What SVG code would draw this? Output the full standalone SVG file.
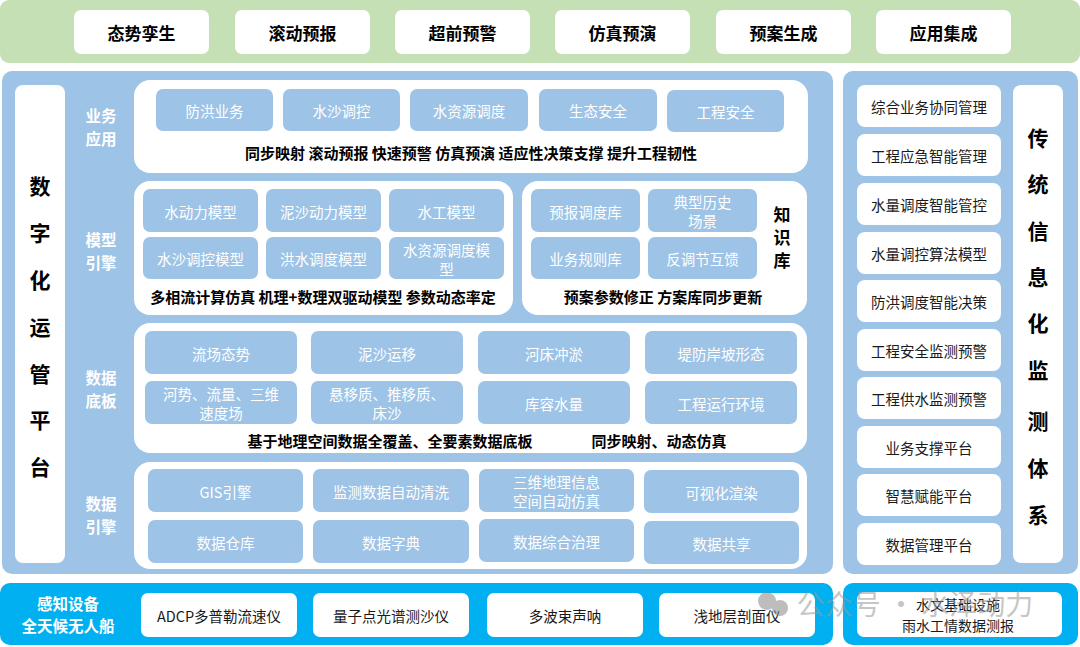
<svg xmlns="http://www.w3.org/2000/svg" width="1080" height="647" viewBox="0 0 1080 647">
<style>
text{font-family:"Noto Sans CJK SC","Microsoft YaHei","Noto Sans",sans-serif;text-anchor:middle;dominant-baseline:central}
.wb{fill:#fff}
.bb{fill:#9DC3E6}
.lbl{fill:#fff;font-size:14.5px}
.dk{fill:#1a1a1a;font-size:14.5px}
.bold{fill:#000;font-weight:bold;font-size:15px}
.top{fill:#000;font-weight:bold;font-size:17px}
.layer{fill:#fff;font-weight:bold;font-size:15.5px}
.vert{fill:#000;font-weight:bold;font-size:21px}
</style>
<rect width="1080" height="647" fill="#fff"/>
<g id="top-bar">
<rect x="0" y="0" width="1080" height="63" rx="9" fill="#C5E0B4"/>
<rect class="wb" x="74" y="10" width="135" height="44" rx="7"/><text class="top" x="141.5" y="32">态势孪生</text>
<rect class="wb" x="235" y="10" width="135" height="44" rx="7"/><text class="top" x="302.5" y="32">滚动预报</text>
<rect class="wb" x="395" y="10" width="135" height="44" rx="7"/><text class="top" x="462.5" y="32">超前预警</text>
<rect class="wb" x="555" y="10" width="135" height="44" rx="7"/><text class="top" x="622.5" y="32">仿真预演</text>
<rect class="wb" x="716" y="10" width="135" height="44" rx="7"/><text class="top" x="783.5" y="32">预案生成</text>
<rect class="wb" x="876" y="10" width="135" height="44" rx="7"/><text class="top" x="943.5" y="32">应用集成</text>
</g>
<g id="main-panel">
<rect x="2" y="71" width="831" height="503" rx="10" fill="#9DC3E6"/>
<rect class="wb" x="15" y="85" width="50" height="478" rx="8"/>
<text class="vert" x="40" y="185">数</text>
<text class="vert" x="40" y="232">字</text>
<text class="vert" x="40" y="279">化</text>
<text class="vert" x="40" y="326">运</text>
<text class="vert" x="40" y="373">管</text>
<text class="vert" x="40" y="419">平</text>
<text class="vert" x="40" y="466">台</text>
<text class="layer" x="101" y="115">业务<tspan x="101" dy="23">应用</tspan></text>
<text class="layer" x="101" y="239">模型<tspan x="101" dy="23">引擎</tspan></text>
<text class="layer" x="101" y="377">数据<tspan x="101" dy="23">底板</tspan></text>
<text class="layer" x="101" y="503">数据<tspan x="101" dy="23">引擎</tspan></text>
</g>
<g id="business-app">
<rect class="wb" x="134" y="80" width="674" height="93" rx="16"/>
<rect class="bb" x="156" y="89" width="117" height="42" rx="7"/><text class="lbl" x="214.5" y="110">防洪业务</text>
<rect class="bb" x="283" y="89" width="117" height="42" rx="7"/><text class="lbl" x="341.5" y="110">水沙调控</text>
<rect class="bb" x="410" y="89" width="118" height="42" rx="7"/><text class="lbl" x="469" y="110">水资源调度</text>
<rect class="bb" x="539" y="89" width="118" height="42" rx="7"/><text class="lbl" x="598" y="110">生态安全</text>
<rect class="bb" x="667" y="90" width="117" height="42" rx="7"/><text class="lbl" x="725.5" y="111">工程安全</text>
<text class="bold" x="471" y="152">同步映射 滚动预报 快速预警 仿真预演 适应性决策支撑 提升工程韧性</text>
</g>
<g id="model-engine">
<rect class="wb" x="134" y="181" width="379" height="134" rx="16"/>
<rect class="bb" x="143" y="189" width="115" height="43" rx="7"/><text class="lbl" x="200.5" y="211">水动力模型</text>
<rect class="bb" x="266" y="189" width="115" height="43" rx="7"/><text class="lbl" x="323.5" y="211">泥沙动力模型</text>
<rect class="bb" x="389" y="189" width="115" height="43" rx="7"/><text class="lbl" x="446.5" y="211">水工模型</text>
<rect class="bb" x="143" y="237" width="115" height="42" rx="7"/><text class="lbl" x="200.5" y="258">水沙调控模型</text>
<rect class="bb" x="266" y="237" width="115" height="42" rx="7"/><text class="lbl" x="323.5" y="258">洪水调度模型</text>
<rect class="bb" x="389" y="237" width="115" height="42" rx="7"/><text class="lbl" x="446.5" y="249">水资源调度模<tspan x="446.5" dy="19">型</tspan></text>
<text class="bold" x="323" y="296">多相流计算仿真 机理+数理双驱动模型 参数动态率定</text>
</g>
<g id="knowledge-base">
<rect class="wb" x="522" y="181" width="285" height="134" rx="16"/>
<rect class="bb" x="531" y="189" width="109" height="43" rx="7"/><text class="lbl" x="585.5" y="211">预报调度库</text>
<rect class="bb" x="648" y="189" width="109" height="43" rx="7"/><text class="lbl" x="702.5" y="201">典型历史<tspan x="702.5" dy="19">场景</tspan></text>
<rect class="bb" x="531" y="237" width="109" height="42" rx="7"/><text class="lbl" x="585.5" y="258">业务规则库</text>
<rect class="bb" x="648" y="237" width="109" height="42" rx="7"/><text class="lbl" x="702.5" y="258">反调节互馈</text>
<text class="bold" x="782" y="213" style="font-size:17px">知<tspan x="782" dy="23">识</tspan><tspan x="782" dy="23">库</tspan></text>
<text class="bold" x="663" y="296">预案参数修正 方案库同步更新</text>
</g>
<g id="data-base">
<rect class="wb" x="134" y="323" width="673" height="130" rx="16"/>
<rect class="bb" x="145" y="331" width="152" height="43" rx="7"/><text class="lbl" x="221" y="353">流场态势</text>
<rect class="bb" x="311" y="331" width="152" height="43" rx="7"/><text class="lbl" x="387" y="353">泥沙运移</text>
<rect class="bb" x="478" y="331" width="152" height="43" rx="7"/><text class="lbl" x="554" y="353">河床冲淤</text>
<rect class="bb" x="645" y="331" width="152" height="43" rx="7"/><text class="lbl" x="721" y="353">堤防岸坡形态</text>
<rect class="bb" x="145" y="381" width="152" height="43" rx="7"/><text class="lbl" x="221" y="393">河势、流量、三维<tspan x="221" dy="19">速度场</tspan></text>
<rect class="bb" x="311" y="381" width="152" height="43" rx="7"/><text class="lbl" x="387" y="393">悬移质、推移质、<tspan x="387" dy="19">床沙</tspan></text>
<rect class="bb" x="478" y="381" width="152" height="43" rx="7"/><text class="lbl" x="554" y="403">库容水量</text>
<rect class="bb" x="645" y="381" width="152" height="43" rx="7"/><text class="lbl" x="721" y="403">工程运行环境</text>
<text class="bold" x="390" y="440">基于地理空间数据全覆盖、全要素数据底板</text>
<text class="bold" x="659" y="440">同步映射、动态仿真</text>
</g>
<g id="data-engine">
<rect class="wb" x="134" y="462" width="673" height="107" rx="16"/>
<rect class="bb" x="148" y="469" width="155" height="43" rx="7"/><text class="lbl" x="225.5" y="491">GIS引擎</text>
<rect class="bb" x="313" y="469" width="156" height="43" rx="7"/><text class="lbl" x="391" y="491">监测数据自动清洗</text>
<rect class="bb" x="479" y="469" width="155" height="43" rx="7"/><text class="lbl" x="556.5" y="481">三维地理信息<tspan x="556.5" dy="19">空间自动仿真</tspan></text>
<rect class="bb" x="644" y="470" width="155" height="43" rx="7"/><text class="lbl" x="721.5" y="492">可视化渲染</text>
<rect class="bb" x="148" y="520" width="155" height="43" rx="7"/><text class="lbl" x="225.5" y="542">数据仓库</text>
<rect class="bb" x="313" y="520" width="156" height="43" rx="7"/><text class="lbl" x="391" y="542">数据字典</text>
<rect class="bb" x="479" y="519" width="155" height="43" rx="7"/><text class="lbl" x="556.5" y="541">数据综合治理</text>
<rect class="bb" x="644" y="521" width="155" height="43" rx="7"/><text class="lbl" x="721.5" y="543">数据共享</text>
</g>
<g id="right-panel">
<rect x="843" y="71" width="235" height="503" rx="10" fill="#9DC3E6"/>
<rect class="wb" x="1013" y="85" width="50" height="478" rx="8"/>
<text class="vert" x="1038" y="137">传</text>
<text class="vert" x="1038" y="183">统</text>
<text class="vert" x="1038" y="230">信</text>
<text class="vert" x="1038" y="276">息</text>
<text class="vert" x="1038" y="322">化</text>
<text class="vert" x="1038" y="369">监</text>
<text class="vert" x="1038" y="420">测</text>
<text class="vert" x="1038" y="467">体</text>
<text class="vert" x="1038" y="514">系</text>
<rect class="wb" x="857" y="85" width="144" height="42" rx="8"/><text class="dk" x="929" y="106">综合业务协同管理</text>
<rect class="wb" x="857" y="134" width="144" height="42" rx="8"/><text class="dk" x="929" y="155">工程应急智能管理</text>
<rect class="wb" x="857" y="183" width="144" height="42" rx="8"/><text class="dk" x="929" y="204">水量调度智能管控</text>
<rect class="wb" x="857" y="232" width="144" height="42" rx="8"/><text class="dk" x="929" y="253">水量调控算法模型</text>
<rect class="wb" x="857" y="280" width="144" height="42" rx="8"/><text class="dk" x="929" y="301">防洪调度智能决策</text>
<rect class="wb" x="857" y="329" width="144" height="42" rx="8"/><text class="dk" x="929" y="350">工程安全监测预警</text>
<rect class="wb" x="857" y="377" width="144" height="42" rx="8"/><text class="dk" x="929" y="398">工程供水监测预警</text>
<rect class="wb" x="857" y="426" width="144" height="42" rx="8"/><text class="dk" x="929" y="447">业务支撑平台</text>
<rect class="wb" x="857" y="474" width="144" height="42" rx="8"/><text class="dk" x="929" y="495">智慧赋能平台</text>
<rect class="wb" x="857" y="523" width="144" height="42" rx="8"/><text class="dk" x="929" y="544">数据管理平台</text>
</g>
<g id="sensing">
<rect x="0" y="583" width="833" height="62" rx="10" fill="#00B0F0"/>
<text class="layer" x="68" y="603">感知设备<tspan x="68" dy="22">全天候无人船</tspan></text>
<rect class="wb" x="141" y="593" width="156" height="44" rx="7"/><text class="dk" x="219" y="615">ADCP多普勒流速仪</text>
<rect class="wb" x="313" y="593" width="156" height="44" rx="7"/><text class="dk" x="391" y="615">量子点光谱测沙仪</text>
<rect class="wb" x="487" y="593" width="156" height="44" rx="7"/><text class="dk" x="565" y="615">多波束声呐</text>
<rect class="wb" x="659" y="593" width="156" height="44" rx="7"/><text class="dk" x="737" y="615">浅地层剖面仪</text>
</g>
<g id="hydro">
<rect x="843" y="583" width="235" height="62" rx="10" fill="#00B0F0"/>
<rect class="wb" x="857" y="592" width="205" height="45" rx="7"/>
<text class="dk" x="958" y="604" style="font-size:14px">水文基础设施<tspan x="958" dy="21">雨水工情数据测报</tspan></text>
</g>
<g id="watermark" opacity="0.55">
<circle cx="767" cy="601" r="9" fill="#888"/>
<circle cx="780" cy="608" r="8" fill="#888"/>
<text x="915" y="603" style="font-size:28px;fill:#999">公众号 · 水泽动力</text>
</g>
</svg>
